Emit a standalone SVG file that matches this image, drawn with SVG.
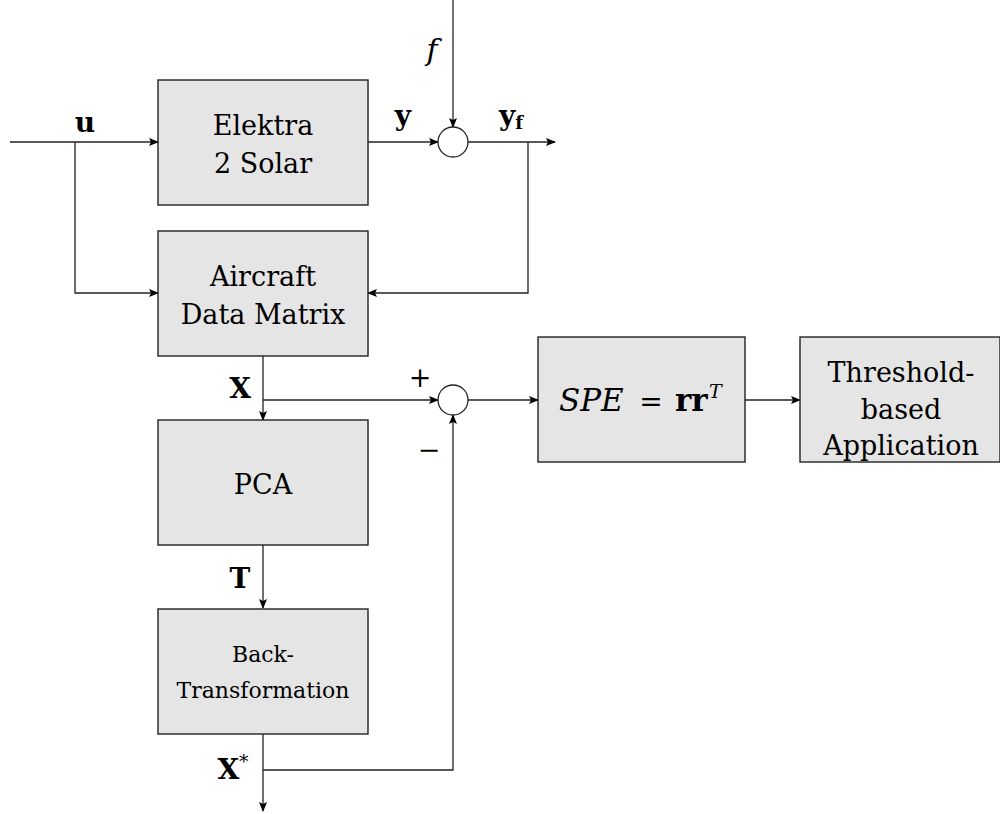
<svg xmlns="http://www.w3.org/2000/svg" width="1000" height="814" viewBox="0 0 1000 814">
<defs>
<marker id="ah" markerWidth="10" markerHeight="8" refX="9" refY="4" orient="auto" markerUnits="userSpaceOnUse">
<path d="M0,0 L10,4 L0,8 L2,4 Z" fill="#000"/>
</marker>
<style>
.box{fill:#e5e5e5;stroke:#222;stroke-width:1.4}
.ln{fill:none;stroke:#222;stroke-width:1.3}
.t{font-family:"DejaVu Serif","Liberation Serif",serif;font-size:27px;fill:#000;text-anchor:middle}
.s{font-size:22px}
.b{font-weight:bold}
.lb{font-size:28px}
.i{font-style:italic}
.st{text-anchor:start}
.sum{fill:#fff;stroke:#222;stroke-width:1.3}
</style>
</defs>
<rect width="1000" height="814" fill="#fff"/>
<g id="connectors">
<path class="ln" d="M10,142 H158" marker-end="url(#ah)"/>
<path class="ln" d="M75,142 V293 H158" marker-end="url(#ah)"/>
<path class="ln" d="M368,142 H438" marker-end="url(#ah)"/>
<path class="ln" d="M453,0 V127" marker-end="url(#ah)"/>
<path class="ln" d="M468,142 H555" marker-end="url(#ah)"/>
<path class="ln" d="M528,142 V293 H368" marker-end="url(#ah)"/>
<path class="ln" d="M263,356 V420" marker-end="url(#ah)"/>
<path class="ln" d="M263,400 H438" marker-end="url(#ah)"/>
<path class="ln" d="M468,400 H538" marker-end="url(#ah)"/>
<path class="ln" d="M745,400 H800" marker-end="url(#ah)"/>
<path class="ln" d="M263,545 V608" marker-end="url(#ah)"/>
<path class="ln" d="M263,734 V811" marker-end="url(#ah)"/>
<path class="ln" d="M263,770 H453 V415" marker-end="url(#ah)"/>
</g>
<g id="labels">
<text class="t b lb" x="85" y="132">u</text>
<text class="t b lb" x="403" y="125">y</text>
<text class="t i" x="432" y="60" style="font-size:30px">f</text>
<text class="t b lb" x="511" y="125">y<tspan font-size="18" dy="4">f</tspan></text>
<text class="t b lb" x="240" y="398">X</text>
<text class="t" x="420" y="387">+</text>
<text class="t" x="429" y="459">−</text>
<text class="t b lb" x="240" y="588">T</text>
<text class="t b lb" x="233" y="779">X<tspan font-size="19" dy="-11" font-weight="normal">*</tspan></text>
</g>
<g id="elektra">
<rect class="box" x="158" y="80" width="210" height="125"/>
<text class="t" x="263" y="135">Elektra</text>
<text class="t" x="263" y="173">2 Solar</text>
</g>
<g id="sum1"><circle class="sum" cx="453" cy="142" r="15"/></g>
<g id="aircraft">
<rect class="box" x="158" y="231" width="210" height="125"/>
<text class="t" x="263" y="286">Aircraft</text>
<text class="t" x="263" y="324">Data Matrix</text>
</g>
<g id="sum2"><circle class="sum" cx="453" cy="400" r="15"/></g>
<g id="spe">
<rect class="box" x="538" y="337" width="207" height="125"/>
<text class="t i st" x="559" y="411" style="font-size:31px">SPE</text>
<text class="t" x="651" y="411" style="font-size:28px">=</text>
<text class="t b st" x="675" y="411" style="font-size:31px">rr</text>
<text class="t i st" x="709" y="398" style="font-size:19px">T</text>
</g>
<g id="threshold">
<rect class="box" x="800" y="337" width="200" height="125"/>
<text class="t" x="901" y="382">Threshold-</text>
<text class="t" x="901" y="419">based</text>
<text class="t" x="901" y="455">Application</text>
</g>
<g id="pca">
<rect class="box" x="158" y="420" width="210" height="125"/>
<text class="t" x="263" y="494">PCA</text>
</g>
<g id="back">
<rect class="box" x="158" y="609" width="210" height="125"/>
<text class="t s" x="263" y="662">Back-</text>
<text class="t s" x="263" y="698">Transformation</text>
</g>
</svg>
